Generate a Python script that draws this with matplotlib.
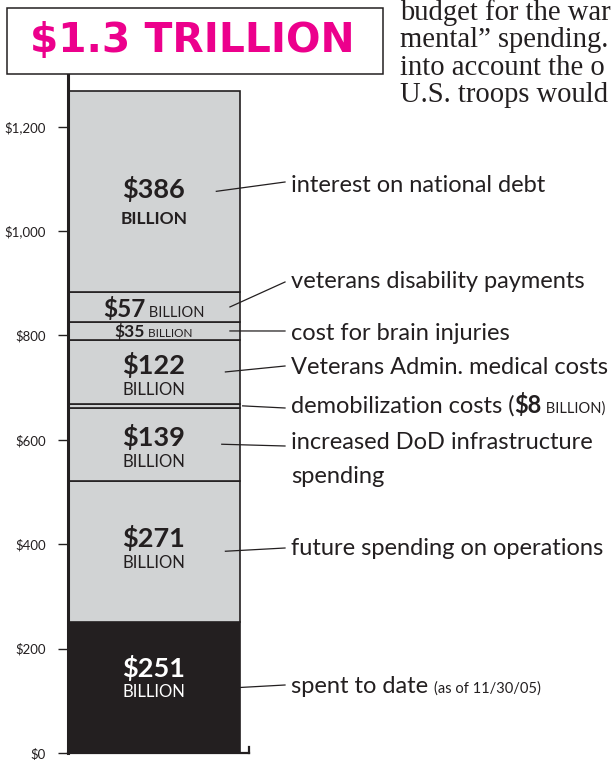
import matplotlib
matplotlib.use("Agg")
import matplotlib.pyplot as plt
from matplotlib.patches import Rectangle
from matplotlib.lines import Line2D

plt.rcParams['text.parse_math'] = False

# ---------------- data ----------------
categories = ["spent to date", "future spending on operations",
              "increased DoD infrastructure\nspending", "demobilization costs",
              "Veterans Admin. medical costs", "cost for brain injuries",
              "veterans disability payments", "interest on national debt"]
values = [251, 271, 139, 8, 122, 35, 57, 386]
value_labels = ["$251", "$271", "$139", "$8", "$122", "$35", "$57", "$386"]
unit_label = "BILLION"
yticks = [0, 200, 400, 600, 800, 1000, 1200]
ytick_labels = ["$0", "$200", "$400", "$600", "$800", "$1,000", "$1,200"]
title = "$1.3 TRILLION"
body_lines = ["budget for the war", "mental\u201d spending.", "into account the o", "U.S. troops would"]
spent_note = "(as of 11/30/05)"

# ---------------- layout ----------------
W, H = 613, 760
fig = plt.figure(figsize=(W / 100, H / 100), dpi=100)
renderer = fig.canvas.get_renderer()

def fx(x):
    return x / W

def fy(y):
    return 1 - y / H

SANS = ['Lato', 'DejaVu Sans']
SERIF = ['Liberation Serif', 'DejaVu Serif']
INK = '#231F20'
GRAY = '#D1D3D4'
MAGENTA = '#EC008C'

ax_l, ax_r, ax_t, ax_b = 67.5, 249, 71, 753
px_per_unit = 0.522
ax = fig.add_axes([fx(ax_l), fy(ax_b), (ax_r - ax_l) / W, (ax_b - ax_t) / H])
ax.set_xlim(0, 1)
ax.set_ylim(0, (ax_b - ax_t) / px_per_unit)

bottoms = []
acc = 0
for v in values:
    bottoms.append(acc)
    acc += v
bar_w = 0.95
colors = [INK] + [GRAY] * (len(values) - 1)
ax.bar([0] * len(values), values, bottom=bottoms, width=bar_w, align='edge',
       color=colors, edgecolor=INK, linewidth=1.2, zorder=2)

for s in ['top', 'right']:
    ax.spines[s].set_visible(False)
ax.spines['left'].set_linewidth(2.2)
ax.spines['left'].set_color(INK)
ax.spines['bottom'].set_linewidth(1.6)
ax.spines['bottom'].set_color(INK)
ax.set_xticks([])
ax.set_yticks(yticks)
ax.set_yticklabels(ytick_labels, family=SANS, fontsize=9.5, color=INK)
ax.tick_params(axis='y', length=7.5, width=1.0, pad=8, color=INK)
ax.add_line(Line2D([1, 1], [0, 0.009], transform=ax.transAxes, color=INK,
                   lw=1.6, clip_on=False))


def text_width(s, size, weight, family):
    t = fig.text(0, 0, s, fontsize=size, fontweight=weight, family=family)
    w = t.get_window_extent(renderer).width
    t.remove()
    return w


def runs(x_px, base_px, parts, ha='left'):
    """parts: list of (text, size, weight, color)."""
    widths = [text_width(p[0], p[1], p[2], SANS) for p in parts]
    total = sum(widths)
    x = x_px - (total / 2 if ha == 'center' else 0)
    for (s, size, weight, color), w in zip(parts, widths):
        fig.text(fx(x), fy(base_px), s, fontsize=size, fontweight=weight,
                 color=color, family=SANS, va='baseline', ha='left')
        x += w


# ---- inner segment labels ----
cx = ax_l + (ax_r - ax_l) * bar_w / 2
big = 19.5
small = 12
two_line = {7: (198, 224, 'bold', 12.5), 4: (374, 395, 'normal', small),
            2: (446, 467, 'normal', small), 1: (547, 568, 'normal', small),
            0: (677, 697, 'normal', small)}
for i, (b1, b2, w2, s2) in two_line.items():
    col = 'white' if i == 0 else INK
    runs(cx, b1, [(value_labels[i], big, 'bold', col)], ha='center')
    runs(cx, b2, [(unit_label, s2, w2, col)], ha='center')
runs(cx, 317, [(value_labels[6], 17.5, 'bold', INK), (" " + unit_label, 10.5, 'normal', INK)], ha='center')
runs(cx, 337, [(value_labels[5], 12.5, 'bold', INK), (" " + unit_label, 8.5, 'normal', INK)], ha='center')

# ---- annotations ----
ann_size = 15
ref = text_width(categories[1], ann_size, 'normal', SANS)
ann_size = ann_size * (605 - 291) / ref
tx = 291
# (start x in axes fraction, text baseline px, line end y px)
ann = {7: (0.82, 192, 182), 6: (0.895, 288, 282), 5: (0.895, 340, 331),
       4: (0.87, 374, 366), 3: (0.965, 413, 408), 2: (0.85, 449, 446),
       1: (0.87, 555, 548), 0: (bar_w, 693, 685)}
for i, (sx, base, ly) in ann.items():
    mid = bottoms[i] + values[i] / 2
    x0, y0 = ax.transData.transform((sx, mid))
    fig.add_artist(Line2D([x0 / W, fx(285)], [y0 / H, fy(ly)], color=INK, lw=0.9))
    if i == 3:
        runs(tx, base, [(categories[i] + " (", ann_size, 'normal', INK),
                        (value_labels[i], ann_size, 'bold', INK),
                        (" " + unit_label + ")", ann_size * 0.62, 'normal', INK)])
    elif i == 0:
        runs(tx, base, [(categories[i] + " ", ann_size, 'normal', INK),
                        (spent_note, ann_size * 0.62, 'normal', INK)])
    elif i == 2:
        l1, l2 = categories[i].split("\n")
        runs(tx, base, [(l1, ann_size, 'normal', INK)])
        runs(tx, base + 34, [(l2, ann_size, 'normal', INK)])
    else:
        runs(tx, base, [(categories[i], ann_size, 'normal', INK)])

# ---- title box ----
fig.add_artist(Rectangle((fx(7), fy(74)), (383 - 7) / W, (74 - 8) / H,
                         transform=fig.transFigure, facecolor='white',
                         edgecolor=INK, lw=1.1))
tsize = 26
tw = text_width(title, tsize, 'black', ['DejaVu Sans'])
tsize = tsize * (355 - 30) / tw
fig.text(fx(192), fy(41), title, fontsize=tsize, fontweight='black',
         family=['DejaVu Sans'], color=MAGENTA, ha='center', va='center')

# ---- body serif text (cropped column) ----
bsize = 19
bw = text_width(body_lines[0], bsize, 'normal', SERIF)
bsize = bsize * (611 - 400) / bw
for k, line in enumerate(body_lines):
    fig.text(fx(400), fy(20 + 27.3 * k), line, fontsize=bsize, family=SERIF,
             color=INK, va='baseline', ha='left')

fig.savefig("out.png", dpi=100)
